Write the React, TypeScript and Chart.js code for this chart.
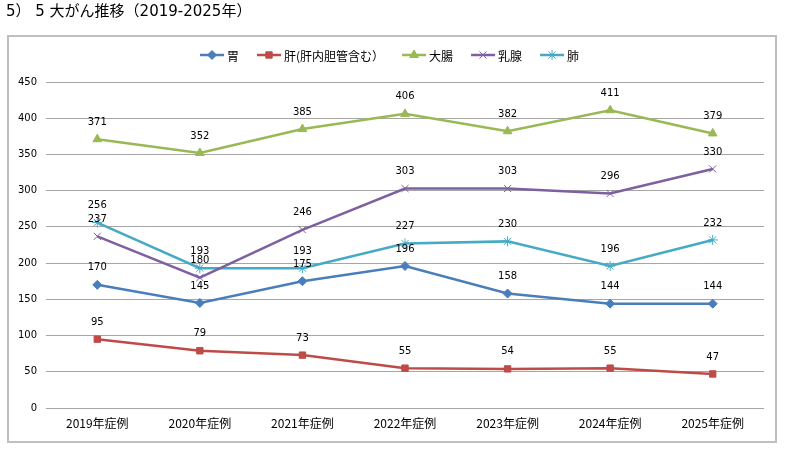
import React, { useEffect, useRef } from 'react';
import Chart from 'chart.js/auto';
import { drawPoint } from 'chart.js/helpers';

const years = ['2019年症例', '2020年症例', '2021年症例', '2022年症例', '2023年症例', '2024年症例', '2025年症例'];
const stomach = [170, 145, 175, 196, 158, 144, 144];
const liver = [95, 79, 73, 55, 54, 55, 47];
const colon = [371, 352, 385, 406, 382, 411, 379];
const breast = [237, 180, 246, 303, 303, 296, 330];
const lung = [256, 193, 193, 227, 230, 196, 232];

const JP = '"Noto Sans CJK JP", "Noto Sans", sans-serif';
const NUM = '"DejaVu Sans", sans-serif';

// frame + title behind everything
const framePlugin = {
  id: 'frame',
  beforeDraw(chart: any) {
    const ctx = chart.ctx;
    ctx.save();
    ctx.fillStyle = '#fff';
    ctx.fillRect(0, 0, chart.width, chart.height);
    ctx.strokeStyle = '#BFBFBF';
    ctx.lineWidth = 2;
    ctx.strokeRect(8, 36, 768, 406);
    ctx.fillStyle = '#000';
    ctx.font = `15px "DejaVu Sans", ${JP}`;
    ctx.textBaseline = 'middle';
    ctx.fillText('5） 5 大がん推移（2019-2025年）', 6, 12);
    ctx.restore();
  },
};

// line + marker legend, like the spreadsheet one
const lineLegendPlugin = {
  id: 'lineLegend',
  afterDraw(chart: any) {
    const ctx = chart.ctx;
    ctx.save();
    ctx.font = `12px ${JP}`;
    ctx.textBaseline = 'middle';
    let x = 200;
    const y = 55;
    chart.data.datasets.forEach((ds: any) => {
      ctx.strokeStyle = ds.borderColor;
      ctx.lineWidth = 2.5;
      ctx.beginPath();
      ctx.moveTo(x, y);
      ctx.lineTo(x + 24, y);
      ctx.stroke();
      ctx.fillStyle = ds.pointBackgroundColor;
      ctx.strokeStyle = ds.pointBorderColor;
      ctx.lineWidth = ds.pointBorderWidth;
      drawPoint(ctx, { pointStyle: ds.pointStyle, radius: ds.pointRadius, borderWidth: ds.pointBorderWidth, rotation: 0 }, x + 12, y);
      ctx.fillStyle = '#000';
      ctx.fillText(ds.label, x + 27, y + 1);
      x += 28 + ctx.measureText(ds.label).width + 17;
    });
    ctx.restore();
  },
};

const valueLabelPlugin = {
  id: 'valueLabels',
  afterDatasetsDraw(chart: any) {
    const ctx = chart.ctx;
    ctx.save();
    ctx.font = `10px ${NUM}`;
    ctx.fillStyle = '#000';
    ctx.textAlign = 'center';
    ctx.textBaseline = 'middle';
    chart.data.datasets.forEach((ds: any, i: number) => {
      chart.getDatasetMeta(i).data.forEach((pt: any, j: number) => {
        ctx.fillText(String(ds.data[j]), pt.x, pt.y - 17);
      });
    });
    ctx.restore();
  },
};

const series = (label: string, data: number[], color: string, pointStyle: string, radius: number, filled: boolean) => ({
  label,
  data,
  borderColor: color,
  backgroundColor: color,
  borderWidth: 2.5,
  pointStyle,
  pointRadius: radius,
  pointHoverRadius: radius,
  pointBackgroundColor: filled ? color : 'transparent',
  pointBorderColor: color,
  pointBorderWidth: 1,
  tension: 0,
});

const App: React.FC = () => {
  const canvasRef = useRef<HTMLCanvasElement>(null);
  const chartRef = useRef<Chart | null>(null);

  useEffect(() => {
    if (!canvasRef.current) return;
    if (chartRef.current) chartRef.current.destroy();

    chartRef.current = new Chart(canvasRef.current, {
      type: 'line',
      data: {
        labels: years,
        datasets: [
          series('胃', stomach, '#4A7EBB', 'rectRot', 4.5, true),
          series('肝(肝内胆管含む）', liver, '#BE4B48', 'rect', 4.5, true),
          series('大腸', colon, '#98B954', 'triangle', 5, true),
          series('乳腺', breast, '#7D60A0', 'crossRot', 5, false),
          series('肺', lung, '#46AAC5', 'star', 5, false),
        ] as any,
      },
      options: {
        animation: false,
        responsive: true,
        maintainAspectRatio: false,
        layout: { padding: { top: 82, right: 23, left: 0, bottom: 0 } },
        scales: {
          x: {
            offset: true,
            afterFit: (s: any) => { s.height = 51; },
            grid: { display: false, drawTicks: false },
            border: { display: false },
            ticks: { color: '#000', padding: 8, font: { family: JP, size: 12 }, maxRotation: 0 },
          },
          y: {
            min: 0,
            max: 450,
            afterFit: (s: any) => { s.width = 46; },
            grid: { color: '#A6A6A6', lineWidth: 1, drawTicks: false },
            border: { display: false },
            ticks: { stepSize: 50, color: '#000', padding: 9, font: { family: NUM, size: 10 } },
          },
        },
        plugins: {
          legend: { display: false },
          title: { display: false },
          tooltip: { enabled: false },
        },
      },
      plugins: [framePlugin, lineLegendPlugin, valueLabelPlugin],
    });

    return () => chartRef.current?.destroy();
  }, []);

  return (
    <div style={{ position: 'absolute', left: 0, top: 0, width: 787, height: 459 }}>
      <canvas ref={canvasRef} style={{ width: '100%', height: '100%' }} />
    </div>
  );
};

export default App;
